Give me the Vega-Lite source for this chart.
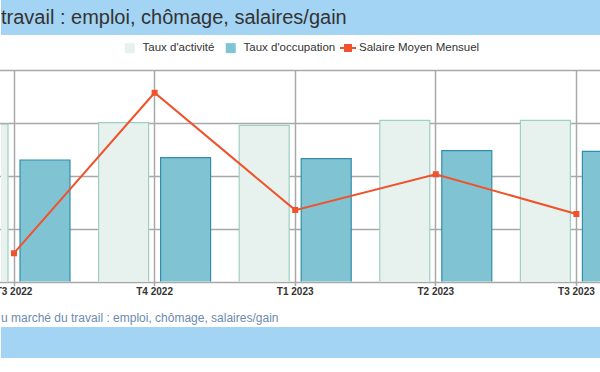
{
  "$schema": "https://vega.github.io/schema/vega-lite/v6.json",
  "padding": {"left": -5, "top": 0, "right": 0, "bottom": 0},
  "background": "white",
  "spacing": 0,
  "config": {"view": {"stroke": null}, "font": "Liberation Sans"},
  "datasets": {
    "barres": [
      {"trimestre": "T3 2022", "serie": "Taux d'activité", "valeur": 64.87},
      {"trimestre": "T3 2022", "serie": "Taux d'occupation", "valeur": 61.49},
      {"trimestre": "T4 2022", "serie": "Taux d'activité", "valeur": 65.02},
      {"trimestre": "T4 2022", "serie": "Taux d'occupation", "valeur": 61.71},
      {"trimestre": "T1 2023", "serie": "Taux d'activité", "valeur": 64.77},
      {"trimestre": "T1 2023", "serie": "Taux d'occupation", "valeur": 61.61},
      {"trimestre": "T2 2023", "serie": "Taux d'activité", "valeur": 65.24},
      {"trimestre": "T2 2023", "serie": "Taux d'occupation", "valeur": 62.37},
      {"trimestre": "T3 2023", "serie": "Taux d'activité", "valeur": 65.24},
      {"trimestre": "T3 2023", "serie": "Taux d'occupation", "valeur": 62.31}
    ],
    "salaires": [
      {"trimestre": "T3 2022", "salaire": 3107},
      {"trimestre": "T4 2022", "salaire": 3714},
      {"trimestre": "T1 2023", "salaire": 3270},
      {"trimestre": "T2 2023", "salaire": 3406},
      {"trimestre": "T3 2023", "salaire": 3255}
    ]
  },
  "vconcat": [
    {
      "width": 600,
      "height": 35,
      "view": {"fill": "#a4d4f4", "stroke": null},
      "data": {"values": [{"titre": "travail : emploi, chômage, salaires/gain"}]},
      "mark": {"type": "text", "align": "left", "baseline": "middle", "fontSize": 20, "color": "#333333", "font": "Liberation Sans"},
      "encoding": {"text": {"field": "titre"}, "x": {"value": 0}}
    },
    {
      "width": 600,
      "height": 211.5,
      "layer": [
        {
          "data": {"name": "barres"},
          "mark": {"type": "bar", "clip": true, "strokeWidth": 1.2},
          "encoding": {
            "x": {
              "field": "trimestre", "type": "nominal", "sort": null,
              "scale": {"range": [-57.3, 645.7], "paddingInner": 0.2034, "paddingOuter": 0.1017},
              "axis": {"title": null, "labelAngle": 0, "domain": false, "grid": true, "bandPosition": 0.5, "gridColor": "#a8a8a8", "gridWidth": 1.5, "tickColor": "#a8a8a8", "tickWidth": 1.5, "tickSize": 4, "labelFont": "Liberation Sans", "labelFontWeight": "bold", "labelFontSize": 10, "labelColor": "#333333", "labelPadding": 1}
            },
            "xOffset": {"field": "serie", "sort": null, "scale": {"paddingInner": 0.1935, "paddingOuter": 0}},
            "y": {
              "field": "valeur", "type": "quantitative",
              "scale": {"domain": [50, 70], "zero": false, "nice": false},
              "axis": {"labels": false, "ticks": false, "domain": false, "title": null, "values": [50, 55, 60, 65, 70], "grid": true, "gridColor": "#a8a8a8", "gridWidth": 1.5}
            },
            "color": {
              "field": "serie", "type": "nominal", "title": null,
              "scale": {"domain": ["Taux d'activité", "Taux d'occupation"], "range": ["#e7f2ee", "#80c4d4"]},
              "legend": {
                "orient": "none", "legendX": 116, "legendY": -35, "padding": 7, "direction": "horizontal", "title": null,
                "symbolType": "square", "symbolSize": 100, "symbolStrokeWidth": 1,
                "labelFont": "Liberation Sans", "labelFontSize": 11.5, "labelColor": "#333333",
                "labelOffset": 7, "columnPadding": 10,
                "encode": {"symbols": {"stroke": {"condition": {"test": "datum.index === 0", "value": "#93c9bd"}, "value": "#2f8ea8"}}}
              }
            },
            "stroke": {
              "field": "serie", "type": "nominal", "title": null,
              "scale": {"domain": ["Taux d'activité", "Taux d'occupation"], "range": ["#9dcfc4", "#2f8ea8"]},
              "legend": null
            },
            "opacity": {"value": 1}
          }
        },
        {
          "data": {"name": "salaires"},
          "mark": {"type": "line", "strokeWidth": 2, "clip": true, "point": {"shape": "square", "size": 36, "filled": true, "color": "#f0532b", "opacity": 1}},
          "encoding": {
            "x": {"field": "trimestre", "type": "nominal", "sort": null},
            "y": {"field": "salaire", "type": "quantitative", "scale": {"domain": [3000, 3800], "zero": false, "nice": false}, "axis": null},
            "color": {
              "datum": "Salaire Moyen Mensuel",
              "scale": {"domain": ["Salaire Moyen Mensuel"], "range": ["#f0532b"]},
              "legend": {
                "orient": "none", "legendX": 334, "legendY": -35, "padding": 7, "direction": "horizontal", "title": null,
                "symbolType": "M-1.6,0L1.6,0M-0.6,-0.6L0.6,-0.6L0.6,0.6L-0.6,0.6Z", "symbolSize": 100,
                "symbolStrokeWidth": 2, "symbolStrokeColor": "#f0532b", "symbolFillColor": "#f0532b",
                "labelFont": "Liberation Sans", "labelFontSize": 11.5, "labelColor": "#333333",
                "labelOffset": 5
              }
            }
          }
        }
      ],
      "resolve": {"scale": {"y": "independent", "color": "independent"}, "legend": {"color": "independent"}}
    },
    {
      "width": 600,
      "height": 31,
      "view": {"fill": "#a4d4f4", "stroke": null},
      "title": {"text": ["", "u marché du travail : emploi, chômage, salaires/gain"], "orient": "top", "anchor": "start", "fontSize": 12, "fontWeight": "normal", "color": "#6c8ab0", "offset": 2, "lineHeight": 15, "font": "Liberation Sans"},
      "data": {"values": [{"vide": ""}]},
      "mark": {"type": "text"},
      "encoding": {"text": {"field": "vide"}}
    }
  ]
}
